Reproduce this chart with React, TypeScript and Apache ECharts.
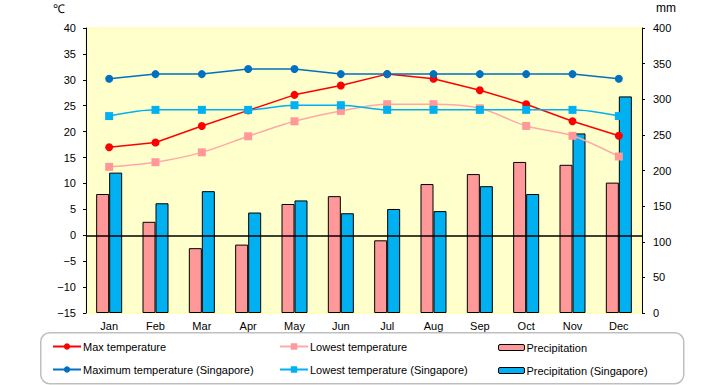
import React, { useEffect, useRef } from "react";
import * as echarts from "echarts";

const months = ["Jan", "Feb", "Mar", "Apr", "May", "Jun", "Jul", "Aug", "Sep", "Oct", "Nov", "Dec"];
const maxTemp = [17.0, 17.9, 21.1, 24.1, 27.1, 28.9, 31.1, 30.2, 28.0, 25.3, 22.0, 19.2];
const lowTemp = [13.2, 14.1, 16.0, 19.1, 22.0, 24.0, 25.3, 25.3, 24.5, 21.1, 19.2, 15.2];
const maxTempSg = [30.2, 31.1, 31.1, 32.1, 32.1, 31.1, 31.1, 31.1, 31.1, 31.1, 31.1, 30.2];
const lowTempSg = [23.0, 24.2, 24.2, 24.2, 25.1, 25.1, 24.2, 24.2, 24.2, 24.2, 24.2, 23.0];
const precip = [167, 128, 91, 96, 153, 164, 102, 181, 195, 212, 208, 183];
const precipSg = [197, 154, 171, 141, 158, 140, 146, 143, 178, 167, 252, 304];
const tempTicks = { min: -15, max: 40, step: 5 };
const mmTicks = { min: 0, max: 400, step: 50 };

const FONT = "'Liberation Sans', Arial, sans-serif";

const minusFmt = (v: number) => String(v).replace("-", "\u2212");

export default function App() {
  const ref = useRef<HTMLDivElement>(null);
  useEffect(() => {
    if (!ref.current) return;
    const chart = echarts.init(ref.current, null, { renderer: "svg" });
    const legendBase = {
      orient: "horizontal",
      padding: 0,
      itemWidth: 28,
      itemHeight: 8,
      itemGap: 0,
      textStyle: { fontFamily: FONT, fontSize: 11, color: "#000", padding: [0, 0, 0, -3] },
      selectedMode: false,
    };
    const lineSeries = (name: string, data: number[], color: string, symbol: string, smooth: number | boolean, lineColor?: string) => ({
      name,
      type: "line",
      data,
      yAxisIndex: 0,
      symbol,
      symbolSize: 8,
      smooth,
      itemStyle: { color },
      lineStyle: { color: lineColor || color, width: 1.5 },
      z: 5,
    });
    chart.setOption({
      animation: false,
      backgroundColor: "#fff",
      textStyle: { fontFamily: FONT },
      grid: {
        left: 86,
        right: 78,
        top: 28,
        bottom: 72,
        show: true,
        backgroundColor: "#FFFFCC",
        borderColor: "#FFFF99",
        borderWidth: 1,
      },
      xAxis: {
        type: "category",
        data: months,
        axisLine: { show: false },
        axisTick: { show: false },
        axisLabel: { color: "#000", fontSize: 11, fontFamily: FONT, margin: 7 },
        splitLine: { show: false },
      },
      yAxis: [
        {
          type: "value",
          min: tempTicks.min,
          max: tempTicks.max,
          interval: tempTicks.step,
          position: "left",
          axisLine: { show: true, lineStyle: { color: "#000", width: 1 } },
          axisTick: { show: true, length: 3, lineStyle: { color: "#000" } },
          axisLabel: { color: "#000", fontSize: 11, fontFamily: FONT, margin: 10, formatter: minusFmt },
          splitLine: { show: false },
        },
        {
          type: "value",
          min: mmTicks.min,
          max: mmTicks.max,
          interval: mmTicks.step,
          position: "right",
          axisLine: { show: true, lineStyle: { color: "#000", width: 1 } },
          axisTick: { show: true, length: 3, lineStyle: { color: "#000" } },
          axisLabel: { color: "#000", fontSize: 11, fontFamily: FONT, margin: 11 },
          splitLine: { show: false },
        },
      ],
      legend: [
        { ...legendBase, data: ["Max temperature"], left: 52, top: 341 },
        { ...legendBase, data: ["Maximum temperature (Singapore)"], left: 52, top: 364 },
        { ...legendBase, data: ["Lowest temperature"], left: 279, top: 341 },
        { ...legendBase, data: ["Lowest temperature (Singapore)"], left: 279, top: 364 },
        { ...legendBase, itemWidth: 26, itemHeight: 6, itemStyle: { borderWidth: 1 }, data: ["Precipitation"], left: 498, top: 342 },
        { ...legendBase, itemWidth: 26, itemHeight: 6, itemStyle: { borderWidth: 1 }, data: ["Precipitation (Singapore)"], left: 498, top: 365 },
      ],
      graphic: [
        {
          type: "rect",
          left: 40,
          top: 332,
          shape: { width: 643, height: 51, r: 9 },
          style: { fill: "#fff", stroke: "#BFBFBF", lineWidth: 1.5 },
          z: -1,
        },
        { type: "text", left: 53, top: 3, style: { text: "\u2103", fontSize: 12, fontFamily: FONT, fill: "#000" } },
        { type: "text", left: 656, top: 2, style: { text: "mm", fontSize: 12, fontFamily: FONT, fill: "#000" } },
      ],
      series: [
        {
          name: "Precipitation",
          type: "bar",
          data: precip,
          yAxisIndex: 1,
          barWidth: 13,
          barGap: "0%",
          itemStyle: { color: "#FF9999", borderColor: "#000", borderWidth: 1 },
        },
        {
          name: "Precipitation (Singapore)",
          type: "bar",
          data: precipSg,
          yAxisIndex: 1,
          barWidth: 13,
          barGap: "0%",
          itemStyle: { color: "#00B0F0", borderColor: "#000", borderWidth: 1 },
        },
        {
          name: "zero",
          type: "line",
          data: [],
          yAxisIndex: 0,
          markLine: {
            silent: true,
            symbol: "none",
            label: { show: false },
            lineStyle: { color: "#000", type: "solid", width: 1.5 },
            data: [{ yAxis: 0 }],
          },
          z: 3,
        },
        lineSeries("Max temperature", maxTemp, "#FF0000", "circle", false),
        lineSeries("Lowest temperature", lowTemp, "#FF9999", "rect", 0.3, "#FFA8A8"),
        lineSeries("Maximum temperature (Singapore)", maxTempSg, "#0070C0", "circle", false),
        lineSeries("Lowest temperature (Singapore)", lowTempSg, "#00B0F0", "rect", 0.3),
      ],
    });
    return () => chart.dispose();
  }, []);
  return <div ref={ref} style={{ width: 720, height: 385, position: "absolute", left: 0, top: 0 }} />;
}
